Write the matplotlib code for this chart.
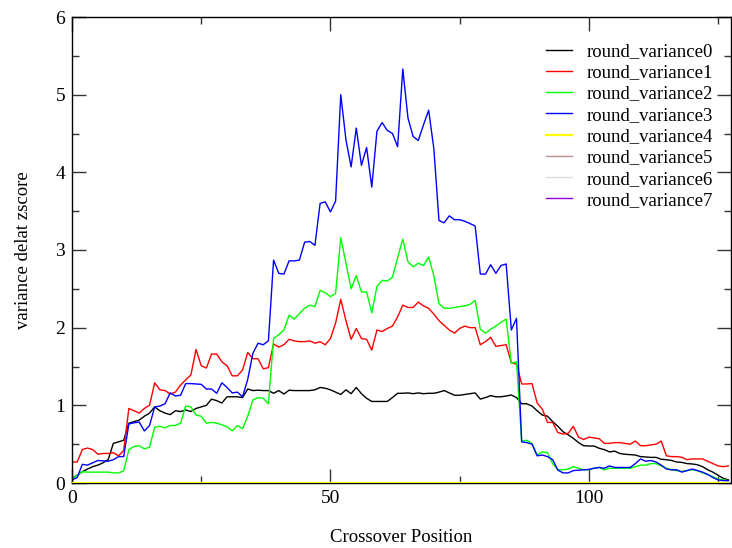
import numpy as np
import matplotlib
matplotlib.use("Agg")
import matplotlib.pyplot as plt
from matplotlib.ticker import MultipleLocator

# crossover positions 0..127
position = np.arange(128)

variance0 = [0.06, 0.10, 0.145, 0.18, 0.21, 0.23, 0.26, 0.30, 0.51, 0.53,
             0.55, 0.77, 0.79, 0.81, 0.86, 0.90, 0.98, 0.93, 0.90, 0.88,
             0.93, 0.92, 0.94, 0.92, 0.96, 0.98, 1.00, 1.08, 1.06, 1.03,
             1.11, 1.11, 1.11, 1.10, 1.21, 1.19, 1.195, 1.19, 1.19, 1.155,
             1.19, 1.146, 1.195, 1.19, 1.19, 1.19, 1.19, 1.20, 1.23, 1.22,
             1.20, 1.17, 1.14, 1.20, 1.15, 1.23, 1.15, 1.09, 1.05, 1.05,
             1.05, 1.05, 1.10, 1.155, 1.155, 1.16, 1.15, 1.16, 1.15, 1.155,
             1.155, 1.17, 1.19, 1.16, 1.13, 1.13, 1.14, 1.15, 1.16, 1.08,
             1.10, 1.125, 1.11, 1.11, 1.12, 1.133, 1.10, 1.02, 1.02, 0.99,
             0.93, 0.875, 0.86, 0.79, 0.73, 0.66, 0.62, 0.575, 0.52, 0.48,
             0.476, 0.476, 0.447, 0.43, 0.40, 0.41, 0.38, 0.37, 0.365, 0.36,
             0.34, 0.335, 0.33, 0.33, 0.305, 0.30, 0.29, 0.27, 0.265, 0.25,
             0.245, 0.235, 0.21, 0.17, 0.14, 0.10, 0.06, 0.04]

variance1 = [0.27, 0.27, 0.43, 0.45, 0.43, 0.37, 0.38, 0.38, 0.39, 0.35,
             0.42, 0.96, 0.93, 0.90, 0.96, 1.00, 1.29, 1.20, 1.19, 1.146,
             1.17, 1.26, 1.33, 1.39, 1.72, 1.51, 1.48, 1.66, 1.66, 1.56,
             1.51, 1.38, 1.38, 1.455, 1.68, 1.60, 1.60, 1.47, 1.485, 1.79,
             1.75, 1.78, 1.85, 1.83, 1.82, 1.82, 1.83, 1.80, 1.82, 1.78,
             1.86, 2.06, 2.365, 2.09, 1.85, 1.99, 1.86, 1.85, 1.71, 1.97,
             1.95, 1.99, 2.02, 2.14, 2.29, 2.26, 2.26, 2.33, 2.28, 2.25,
             2.175, 2.09, 2.03, 1.97, 1.93, 1.99, 2.02, 2.00, 2.00, 1.78,
             1.82, 1.875, 1.76, 1.77, 1.78, 1.55, 1.53, 1.275, 1.275, 1.28,
             1.03, 0.95, 0.78, 0.78, 0.65, 0.63, 0.64, 0.73, 0.59, 0.56,
             0.59, 0.58, 0.57, 0.51, 0.51, 0.52, 0.52, 0.51, 0.50, 0.54,
             0.48, 0.48, 0.49, 0.50, 0.54, 0.35, 0.34, 0.34, 0.33, 0.30,
             0.31, 0.31, 0.31, 0.28, 0.25, 0.22, 0.21, 0.22]

variance2 = [0.05, 0.10, 0.145, 0.14, 0.14, 0.14, 0.14, 0.14, 0.13, 0.13,
             0.155, 0.43, 0.47, 0.48, 0.44, 0.46, 0.72, 0.73, 0.71, 0.74,
             0.74, 0.77, 0.99, 0.98, 0.875, 0.86, 0.77, 0.78, 0.77, 0.75,
             0.725, 0.67, 0.74, 0.70, 0.86, 1.07, 1.10, 1.09, 1.02, 1.86,
             1.91, 1.97, 2.16, 2.11, 2.18, 2.25, 2.29, 2.27, 2.48, 2.45,
             2.40, 2.44, 3.16, 2.83, 2.50, 2.67, 2.46, 2.46, 2.19, 2.53,
             2.61, 2.60, 2.65, 2.90, 3.14, 2.85, 2.785, 2.83, 2.80, 2.91,
             2.67, 2.31, 2.25, 2.25, 2.26, 2.27, 2.28, 2.30, 2.35, 1.98,
             1.93, 1.98, 2.02, 2.07, 2.11, 1.54, 1.56, 0.54, 0.55, 0.51,
             0.36, 0.40, 0.39, 0.25, 0.17, 0.17, 0.18, 0.21, 0.19, 0.17,
             0.17, 0.19, 0.20, 0.17, 0.19, 0.19, 0.19, 0.19, 0.19, 0.21,
             0.23, 0.23, 0.25, 0.25, 0.22, 0.19, 0.17, 0.16, 0.15, 0.16,
             0.17, 0.16, 0.13, 0.11, 0.08, 0.05, 0.04, 0.03]

variance3 = [0.04, 0.07, 0.24, 0.23, 0.26, 0.29, 0.285, 0.28, 0.30, 0.34,
             0.34, 0.76, 0.775, 0.785, 0.67, 0.74, 0.98, 0.99, 1.02, 1.16,
             1.12, 1.13, 1.28, 1.28, 1.275, 1.27, 1.21, 1.21, 1.155, 1.29,
             1.23, 1.16, 1.17, 1.11, 1.335, 1.67, 1.80, 1.78, 1.83, 2.87,
             2.70, 2.69, 2.86, 2.86, 2.87, 3.10, 3.11, 3.06, 3.60, 3.62,
             3.49, 3.63, 5.00, 4.42, 4.07, 4.57, 4.09, 4.32, 3.81, 4.53,
             4.64, 4.54, 4.50, 4.33, 5.33, 4.70, 4.46, 4.41, 4.61, 4.80,
             4.31, 3.38, 3.35, 3.44, 3.39, 3.39, 3.37, 3.34, 3.31, 2.69,
             2.69, 2.81, 2.70, 2.80, 2.82, 1.97, 2.12, 0.53, 0.52, 0.50,
             0.35, 0.36, 0.34, 0.30, 0.167, 0.13, 0.13, 0.16, 0.165, 0.17,
             0.175, 0.19, 0.20, 0.19, 0.22, 0.20, 0.20, 0.20, 0.20, 0.25,
             0.31, 0.28, 0.29, 0.27, 0.23, 0.18, 0.17, 0.17, 0.14, 0.16,
             0.18, 0.16, 0.14, 0.11, 0.07, 0.04, 0.03, 0.03]

variance4 = [0.0] * 128
variance5 = [0.0] * 128
variance6 = [0.0] * 128
variance7 = [0.0] * 128

series = [variance0, variance1, variance2, variance3,
          variance4, variance5, variance6, variance7]
labels = ["round_variance%d" % k for k in range(8)]
colors = ["#000000", "#ff0000", "#00ff00", "#0000ff",
          "#ffff00", "#bc8f8f", "#dcdcdc", "#9400d3"]

plt.rcParams['font.family'] = ['Liberation Serif', 'DejaVu Serif']

fig = plt.figure(figsize=(7.32, 5.48), dpi=100)
ax = fig.add_axes([72 / 732, 65 / 548, 659 / 732, 466 / 548])

lines = []
for k, (vals, lab, col) in enumerate(zip(series, labels, colors)):
    z = 3 if k == 4 else 2
    lw = 1.6 if k == 4 else 1.0
    ln, = ax.plot(position, vals, color=col, lw=lw, label=lab, zorder=z)
    lines.append(ln)

ax.set_xlim(0, 127.5)
ax.set_ylim(0, 6)
ax.xaxis.set_major_locator(MultipleLocator(50))
ax.xaxis.set_minor_locator(MultipleLocator(25))
ax.yaxis.set_major_locator(MultipleLocator(1))
ax.yaxis.set_minor_locator(MultipleLocator(0.5))
ax.tick_params(which='both', direction='in', top=True, right=True,
               labelsize=14, width=1.0, color='#333333')
ax.tick_params(which='major', length=10, pad=5)
ax.tick_params(which='minor', length=5)
for sp in ax.spines.values():
    sp.set_linewidth(1.0)

ax.set_xlabel("Crossover Position", fontsize=13.5, labelpad=16)
ax.set_ylabel("variance delat zscore", fontsize=13.5, labelpad=17)

leg = ax.legend(handles=lines, loc='upper left',
                bbox_to_anchor=(546 / 732, 1 - 43 / 548),
                bbox_transform=fig.transFigure, frameon=False,
                fontsize=13.5, handlelength=1.4, handletextpad=0.75,
                labelspacing=0.22, borderaxespad=0, borderpad=0)

fig.savefig("out.png", dpi=100)
